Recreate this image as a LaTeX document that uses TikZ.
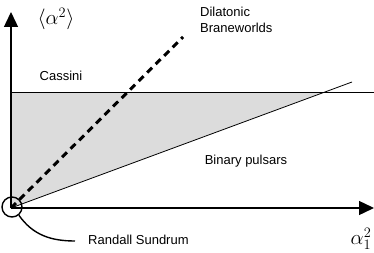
\documentclass[tikz,border=0pt]{standalone}
\usepackage{fontspec}
\setmainfont{Liberation Sans}
\usetikzlibrary{arrows.meta,positioning}
\definecolor{allowed}{HTML}{DCDCDC}

\begin{document}
\begin{tikzpicture}[x=1pt,y=1pt,>={Triangle[length=15pt,width=14pt]},
    lbl/.style={font=\fontsize{13}{15.5}\selectfont,inner sep=0pt},
    sym/.style={font=\fontsize{20}{22}\selectfont,inner sep=0pt}]
        \useasboundingbox (0,0) rectangle (374,252);
        \coordinate (O) at (11,44);
        \coordinate (ytip) at (11,240);
        \coordinate (xtip) at (374,44);
        \coordinate (casL) at (11,160);
        \coordinate (casR) at (374,160);
        \coordinate (cross) at (324,160);
        \coordinate (bpEnd) at (352,170);
        \coordinate (dilEnd) at (183,215);
        \fill[allowed] (O) -- (casL) -- (cross) -- cycle;
        \draw[line width=0.8pt] (casL) -- (casR);
        \draw[line width=0.8pt] (O) -- (bpEnd);
        \draw[line width=3pt,dash pattern=on 7pt off 5pt] (O) -- (dilEnd);
        \draw[->,line width=1.4pt] (O) -- (ytip);
        \draw[->,line width=1.4pt] (O) -- (xtip);
        \node[sym] (ylab) at (56,233) {$\langle\alpha^2\rangle$};
        \node[sym] (xlab) at (361,13) {$\alpha_1^2$};
        \node[lbl] (cassini) at (61,176) {Cassini};
        \node[lbl,align=left,anchor=west] (dil) at (200,232) {Dilatonic\\Braneworlds};
        \node[lbl] (bp) at (246,91) {Binary pulsars};
        \node[lbl,anchor=west] (rs) at (88,12) {Randall Sundrum};
        \node[draw,circle,line width=1.4pt,minimum size=20pt,inner sep=0pt] (rsc) at (12,45) {};
        \draw[line width=1.4pt] (rsc.-50) to[out=-55,in=180] ([xshift=-13pt,yshift=-1pt]rs.west);
\end{tikzpicture}
\end{document}
